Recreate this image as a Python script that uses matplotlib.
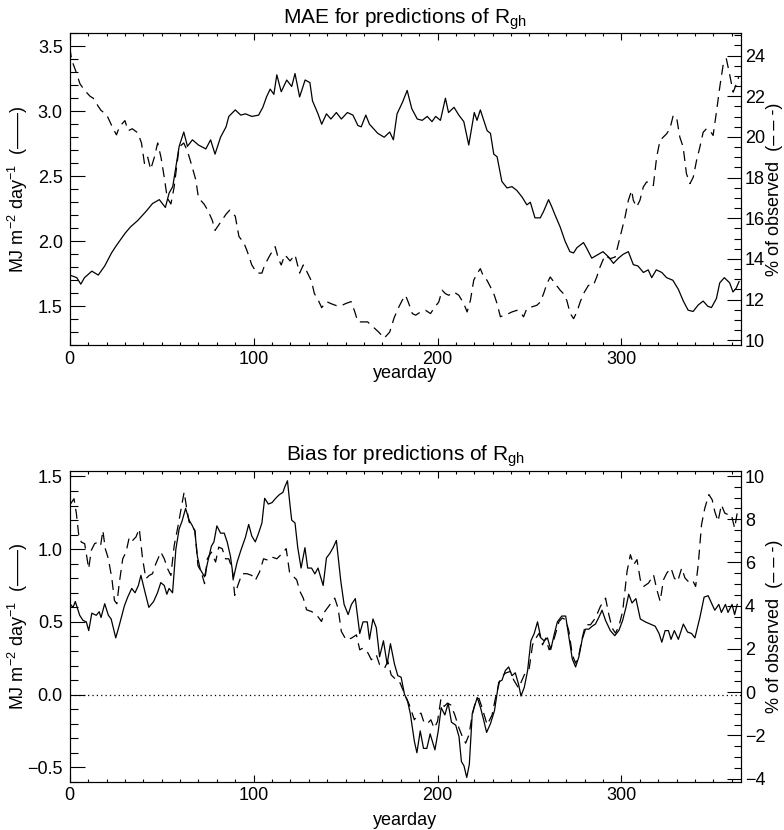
import matplotlib
matplotlib.use("Agg")
import matplotlib.pyplot as plt
from matplotlib.ticker import MultipleLocator

plt.rcParams['font.family'] = ['Liberation Sans', 'DejaVu Sans']
plt.rcParams['mathtext.fontset'] = 'custom'
plt.rcParams['mathtext.rm'] = 'Liberation Sans'
plt.rcParams['mathtext.it'] = 'Liberation Sans:italic'

# MAE, MJ m-2 day-1 (solid, left axis)
mae_mj_day = [0, 3.8, 6, 8, 12, 15.5, 19, 22.7, 25, 30,
              33, 37, 41.5, 45, 48.7, 52, 54, 56, 59.5, 62,
              64, 66.7, 70, 74, 76.6, 79, 82, 85, 86.5, 90,
              93, 95.5, 99, 102.7, 105, 107, 109, 111, 112.6, 115,
              118, 120.7, 122.5, 125, 128, 130.6, 132, 135, 137, 139.6,
              142, 145, 147.7, 151, 154, 156.7, 158.5, 161, 163, 167.5,
              171, 174, 176, 178, 181, 183.5, 186, 189, 191.7, 194.4,
              197, 199, 201.6, 204.3, 206, 209, 211.6, 214.3, 217, 220,
              221.5, 223.3, 227, 228.8, 230.6, 232.4, 235, 237.8, 240.5, 243.2,
              246, 248.6, 250.5, 253, 255.9, 257.7, 260.4, 262, 264, 266.7,
              269.4, 272, 274, 275.8, 279.4, 281, 283.9, 287.5, 290, 293,
              295.7, 298.4, 301, 303.8, 306.5, 309, 312, 314.6, 316.5, 319,
              322, 324.6, 328, 331, 333.7, 336.3, 339, 341.8, 344.5, 347,
              349, 351.7, 353.5, 356, 358.9, 360.7, 362.5, 364]
mae_mj = [1.74, 1.72, 1.67, 1.72, 1.77, 1.74, 1.81, 1.91, 1.96, 2.06,
          2.11, 2.16, 2.23, 2.29, 2.32, 2.26, 2.37, 2.42, 2.73, 2.84,
          2.73, 2.78, 2.74, 2.71, 2.78, 2.67, 2.80, 2.88, 2.96, 3.01,
          2.97, 2.98, 2.96, 2.97, 3.03, 3.11, 3.17, 3.13, 3.28, 3.15,
          3.24, 3.19, 3.29, 3.11, 3.24, 3.22, 3.08, 2.98, 2.90, 2.98,
          2.94, 2.99, 2.94, 2.99, 2.97, 2.89, 2.88, 2.97, 2.90, 2.83,
          2.80, 2.84, 2.78, 2.98, 3.07, 3.16, 3.02, 2.94, 2.93, 2.96,
          2.92, 2.96, 2.93, 3.10, 2.99, 3.03, 2.97, 2.92, 2.74, 2.99,
          2.93, 3.01, 2.85, 2.83, 2.67, 2.65, 2.46, 2.41, 2.42, 2.39,
          2.34, 2.28, 2.30, 2.18, 2.18, 2.23, 2.32, 2.27, 2.20, 2.11,
          2.00, 1.92, 1.91, 1.95, 1.99, 1.95, 1.87, 1.90, 1.92, 1.88,
          1.83, 1.87, 1.90, 1.92, 1.82, 1.81, 1.76, 1.78, 1.72, 1.78,
          1.76, 1.72, 1.70, 1.63, 1.54, 1.47, 1.46, 1.51, 1.54, 1.50,
          1.49, 1.56, 1.68, 1.72, 1.68, 1.61, 1.64, 1.69]

# MAE, % of observed (dashed, right axis)
mae_pct_day = [0, 1, 3, 5.6, 8, 11, 12.8, 15.5, 17, 20,
               23.6, 25.4, 27, 30, 31.7, 34, 37, 39, 40.6, 42.4,
               44, 46, 47.8, 49.6, 51.4, 53, 55, 56.7, 59.5, 62,
               64, 66, 68.5, 70, 73, 75, 77.5, 79, 82, 85,
               87, 90, 92, 94.6, 96.4, 99, 101.8, 104.5, 106, 109,
               111.7, 113.5, 115, 117, 119.8, 122.5, 125, 127, 128.8, 131.5,
               133, 135, 137, 139.6, 142, 145, 147.7, 150, 153, 155,
               156.7, 159, 162, 165.6, 168, 171, 174, 176.4, 179, 180.8,
               182.6, 184.4, 186.3, 188.1, 190.8, 193.5, 196.2, 198, 200.7, 202.5,
               204.3, 206.1, 208.9, 211.6, 214.3, 216.1, 217.9, 219.7, 221.5, 223.3,
               225.1, 226.9, 228.8, 230.6, 232.4, 234.2, 236, 238.7, 240.5, 243.2,
               245, 246.8, 248.6, 251.4, 254.1, 255.9, 257.7, 259.5, 261.3, 264,
               266.7, 268.5, 270.3, 272.2, 274, 275.8, 277.6, 279.4, 282.1, 284.8,
               286.6, 288.4, 291.1, 293.9, 296.6, 298.4, 300.2, 302, 303.8, 305.6,
               306.5, 308.3, 310.1, 311.9, 313.7, 315.6, 317.4, 319.2, 321, 322.8,
               324.6, 326.4, 328.2, 330, 331.8, 333.6, 335.4, 337.3, 339.1, 340.9,
               342.7, 344.5, 346.3, 348.1, 349.9, 351.7, 353.5, 355.3, 357.1, 359,
               360.8, 362.6, 363.8]
mae_pct = [24.4, 23.8, 23.3, 22.6, 22.3, 22.0, 21.9, 21.5, 21.3, 21.1,
           20.4, 20.1, 20.5, 20.8, 20.3, 20.4, 20.2, 19.7, 18.7, 19.0,
           18.4, 19.0, 19.7, 19.0, 18.0, 17.0, 16.7, 17.5, 19.5, 19.7,
           19.3, 18.7, 17.9, 17.0, 16.7, 16.4, 15.9, 15.4, 15.8, 16.2,
           16.4, 16.1, 15.1, 14.8, 14.4, 13.7, 13.3, 13.3, 13.7, 14.2,
           14.6, 14.0, 13.7, 14.2, 13.9, 14.2, 13.3, 13.7, 13.4, 12.9,
           12.3, 12.0, 11.6, 11.9, 11.8, 11.7, 11.7, 11.8, 11.9, 11.4,
           10.9, 10.9, 10.9, 10.6, 10.4, 10.1, 10.4, 11.1, 11.64, 11.96,
           12.21, 11.80, 11.31, 11.23, 11.39, 11.47, 11.31, 11.56, 11.88, 12.46,
           12.29, 12.21, 12.37, 12.21, 11.80, 11.39, 11.96, 12.95, 13.27, 13.52,
           13.11, 12.95, 12.62, 12.29, 11.80, 11.15, 11.23, 11.31, 11.39, 11.47,
           11.39, 11.15, 11.56, 11.64, 11.72, 11.88, 12.29, 12.78, 13.11, 12.78,
           12.46, 12.29, 11.96, 11.31, 11.06, 11.39, 11.88, 12.29, 12.70, 12.70,
           13.11, 13.60, 14.18, 14.01, 14.09, 14.75, 15.40, 16.06, 16.88, 17.37,
           16.88, 16.55, 16.88, 17.53, 17.78, 17.78, 17.61, 19.01, 19.82, 19.99,
           20.15, 20.40, 21.05, 20.97, 19.99, 19.50, 18.19, 17.70, 18.02, 18.84,
           19.50, 20.23, 20.40, 20.32, 20.07, 21.22, 22.44, 23.51, 23.84, 23.02,
           22.20, 22.61, 22.94]

# Bias, MJ m-2 day-1 (solid, left axis)
bias_mj_day = [0, 1.8, 3, 5.4, 7.2, 9, 10.3, 12, 14.4, 16,
               17, 19, 21, 22.5, 25, 27, 29.7, 31.5, 33.7, 35.5,
               37.3, 38.7, 41, 43, 45.6, 47.7, 49.5, 51.4, 52.8, 54,
               55.9, 57.7, 59.5, 61, 63, 64.9, 66.7, 68, 69.4, 71,
               73.3, 75, 77, 78.4, 80, 82, 84, 85.6, 87.4, 89,
               91, 93, 95.5, 97.3, 99, 100.9, 102.7, 104.5, 106, 108,
               110, 112, 114, 115.9, 117, 118.4, 119.8, 120.7,
               122.5, 124, 125.8, 127.9, 129.4, 131.5, 133.3, 135, 137.8, 139.6,
               141.4, 143.2, 145, 147.4, 149.2, 151.4, 153.2, 155.3, 157.7, 159.5,
               161.8, 163, 164.9, 166.7, 168.5, 170.6, 172.6, 174.4, 176.6, 178.4,
               180.2, 182, 183.8, 185.2, 187.4, 188.8, 190.6, 192.4, 194.2, 196,
               198.6, 200.4, 202, 204, 205.8, 207.6, 209.9, 211.7, 213, 214.4,
               215.9, 217.3, 218.9, 221.6, 223.4, 225.2, 226.7, 228.8, 231, 233.3,
               235.1, 236.9, 238.7, 240.5, 242.3,
               244.1, 245.4, 247.2, 249, 250.8, 252.6, 254.4, 256.2, 258, 259.8,
               261.6, 263.4, 265.2, 267.6, 269.7, 271.5, 273.3, 275.1, 276.9, 278.7,
               280.5, 282.3, 284.1, 285.9, 287.7, 289.5, 291.4, 294, 296.4, 298.6,
               300.7, 302.5, 304, 305.8, 307.9, 310.3, 313, 315.7, 318.4, 320.5,
               322, 323.8, 325.6, 327, 328.8, 331, 333.7, 336, 338.2, 340,
               342.7, 345, 347.2, 349, 350.8, 353, 354.4, 356.6, 358, 360.2,
               361.6, 363]
bias_mj = [0.625, 0.60, 0.64, 0.545, 0.51, 0.50, 0.44, 0.56, 0.545, 0.57,
           0.53, 0.625, 0.545, 0.52, 0.39, 0.48, 0.61, 0.67, 0.73, 0.70,
           0.75, 0.82, 0.70, 0.60, 0.64, 0.70, 0.77, 0.75, 0.69, 0.73,
           0.70, 1.00, 1.14, 1.19, 1.28, 1.20, 1.16, 1.125, 0.95, 0.86,
           0.81, 0.91, 1.02, 1.05, 1.16, 1.11, 1.11, 1.05, 0.95, 0.80,
           0.91, 0.99, 1.08, 1.17, 1.09, 1.05, 1.11, 1.18, 1.35, 1.31,
           1.32, 1.35, 1.375, 1.39, 1.43, 1.47, 1.30, 1.20,
           1.18, 1.01, 0.87, 1.01, 0.87, 0.87, 0.83, 0.87, 0.75, 0.94,
           0.97, 1.01, 1.06, 0.78, 0.62, 0.55, 0.62, 0.66, 0.42, 0.50,
           0.50, 0.38, 0.52, 0.46, 0.26, 0.37, 0.21, 0.35, 0.21, 0.13,
           0.12, 0.005, -0.05, -0.13, -0.32, -0.40, -0.25, -0.37, -0.37, -0.27,
           -0.38, -0.25, -0.09, -0.14, -0.06, -0.19, -0.21, -0.29, -0.46, -0.49,
           -0.57, -0.48, -0.13, -0.02, -0.09, -0.18, -0.26, -0.20, -0.11, 0.085,
           0.10, 0.165, 0.19, 0.13, 0.15,
           0.07, -0.01, 0.05, 0.165, 0.37, 0.42, 0.50, 0.39, 0.37, 0.39,
           0.31, 0.41, 0.50, 0.54, 0.54, 0.39, 0.245, 0.19, 0.26, 0.38,
           0.45, 0.45, 0.47, 0.485, 0.53, 0.58, 0.51, 0.44, 0.405, 0.44,
           0.51, 0.60, 0.69, 0.63, 0.66, 0.52, 0.50, 0.485, 0.47, 0.42,
           0.36, 0.44, 0.44, 0.38, 0.44, 0.38, 0.485, 0.43, 0.42, 0.39,
           0.53, 0.67, 0.68, 0.63, 0.58, 0.62, 0.565, 0.62, 0.565, 0.62,
           0.55, 0.62]

# Bias, % of observed (dashed, right axis)
bias_pct_day = [0.5, 2.3, 3.6, 4.9, 6.3, 8.1, 10.3, 11.7, 13.5, 15.3,
                16.8, 18, 19.3, 21, 22.9, 24.3, 25.6, 27, 28.8, 30.6,
                32.4, 34.2, 36, 37.8, 39.6, 41.4, 43.2, 45, 46.8, 49.5,
                51.4, 53.2, 55, 56.8, 58.6, 60.4, 62.2, 63.6, 64.9, 66.7,
                68.1, 69.7, 71.5, 73.3, 74.8, 77, 79.3, 81, 82.9, 84.7,
                86.5, 88.3, 89.7, 91.4, 93.7, 96.4, 99, 100.9, 103.2, 105.4,
                108, 110, 112.6, 115.3, 117.7, 119.5,
                120.7, 123.4, 125.2, 127, 128.8, 131.5, 134.2, 136.9, 138.7, 141.4,
                144.1, 145.9, 147.7, 150.3, 153.2, 155.9, 157.7, 159.5, 162.2, 164,
                166.7, 168.5, 171.2, 173, 174.8, 177.5, 179.3, 182, 184.7, 187.4,
                189.2, 191, 192.8, 194.6, 196.4, 198.2, 200, 201.8, 203.6, 205.4,
                207.2, 209.4, 211.7, 213.5, 215.3, 217.1, 218.9, 220.7, 222.5, 224.3,
                227, 229.7, 231.5, 234.2, 236.9, 239.6, 241.4, 244.1,
                247.2, 249.9, 251.7, 253.5, 255.3, 257.1, 258.9, 260.7, 262.5, 264.3,
                266.1, 267.9, 269.7, 271.5, 273.3, 275.1, 276.9, 278.7, 280.5, 283.2,
                285.9, 288.6, 291.4, 293.2, 295, 296.8, 298.6, 300.7, 303.1, 304.9,
                306.7, 308.5, 310.3, 312.1, 314.8, 317.5, 319.3, 321.1, 322.9, 324.7,
                327, 328.8, 330.6, 332.8, 334.6, 336.4, 338.6, 340.4, 341.8, 343.6,
                345.4, 347.6, 349.4, 350.8, 352.6, 354.4, 356.2, 358, 359.8, 361.6,
                363]
bias_pct = [8.72, 8.95, 8.26, 7.25, 6.94, 6.87, 5.71, 6.56, 6.87, 6.94,
            6.79, 7.48, 6.64, 6.17, 5.25, 4.24, 4.09, 5.09, 6.17, 6.48,
            7.18, 7.02, 7.18, 7.56, 6.17, 5.25, 5.40, 5.48, 5.94, 6.48,
            6.17, 5.71, 5.40, 6.79, 7.56, 8.41, 9.26, 8.49, 7.87, 7.64,
            7.48, 5.86, 5.56, 5.02, 6.17, 6.48, 6.02, 6.71, 6.64, 6.17,
            6.17, 5.71, 4.48, 4.94, 5.48, 5.48, 5.40, 5.17, 5.56, 6.17,
            6.10, 6.25, 6.17, 6.40, 6.64, 5.56,
            5.43, 5.20, 4.66, 4.35, 3.81, 3.73, 3.58, 3.27, 3.73, 4.04,
            4.35, 3.89, 2.81, 2.42, 2.50, 2.65, 1.96, 2.04, 1.81, 1.50,
            1.73, 1.27, 1.11, 1.42, 0.80, 0.57, 0.49, -0.05, -0.59, -1.28,
            -1.05, -0.97, -1.44, -1.44, -1.28, -1.67, -1.36, -0.35, -0.66, -0.51,
            -0.59, -1.05, -1.67, -2.05, -2.36, -1.98, -1.05, -0.43, -0.28, -0.74,
            -1.51, -1.05, -0.28, 0.65, 0.88, 0.96, 0.57, 0.19,
            0.80, 1.11, 2.19, 2.50, 2.73, 2.19, 2.50, 1.96, 2.19, 2.73,
            3.27, 3.43, 3.35, 2.81, 1.73, 1.34, 1.73, 2.50, 3.12, 3.12,
            3.43, 3.97, 4.35, 3.58, 2.96, 2.73, 3.04, 3.73, 5.59, 6.36,
            5.90, 6.13, 5.20, 4.89, 5.05, 5.43, 4.74, 4.20, 5.20, 5.51,
            5.74, 5.28, 5.12, 5.74, 5.28, 5.12, 5.20, 4.89, 5.90, 7.75,
            8.52, 9.14, 8.90, 8.36, 7.90, 8.67, 8.29, 8.21, 8.21, 7.59,
            8.29]

fig = plt.figure(figsize=(7.84, 8.3), dpi=100)
ax_top = fig.add_axes([0.089, 0.584, 0.856, 0.376])
ax_bot = fig.add_axes([0.089, 0.058, 0.856, 0.375])

dash = (0, (8, 5))


def style(ax, ax2, title, ylim, ylim2, minor_l, minor_r, xlab_y):
    ax.set_xlim(0, 365)
    ax.set_ylim(*ylim)
    ax2.set_ylim(*ylim2)
    ax.xaxis.set_major_locator(MultipleLocator(100))
    ax.xaxis.set_minor_locator(MultipleLocator(10))
    ax.yaxis.set_minor_locator(MultipleLocator(minor_l))
    ax2.yaxis.set_minor_locator(MultipleLocator(minor_r))
    ax.tick_params(axis='x', which='both', direction='in', top=True, bottom=True,
                   labelsize=13, pad=4)
    ax.tick_params(axis='x', which='major', length=5, width=0.8)
    ax.tick_params(axis='x', which='minor', length=2.5, width=0.8)
    ax.tick_params(axis='y', which='both', direction='in', left=True, right=False,
                   labelsize=13, pad=5)
    ax.tick_params(axis='y', which='major', length=11, width=0.8)
    ax.tick_params(axis='y', which='minor', length=5.5, width=0.8)
    ax2.tick_params(axis='y', which='both', direction='in', right=True, left=False,
                    labelsize=13, pad=3)
    ax2.tick_params(axis='y', which='major', length=10, width=0.8)
    ax2.tick_params(axis='y', which='minor', length=5, width=0.8)
    for sp in ax.spines.values():
        sp.set_linewidth(0.8)
    ax.set_title(title, fontsize=15, pad=7)
    ax.set_xlabel("yearday", fontsize=13)
    ax.xaxis.set_label_coords(0.5, xlab_y)
    ax.set_ylabel("MJ m$^{-2}$ day$^{-1}$  (\u2014\u2014)", fontsize=13)
    ax.yaxis.set_label_coords(-0.059, 0.5)
    ax2.set_ylabel("% of observed  (\u2013 \u2013 -)", fontsize=13, rotation=90)
    ax2.yaxis.set_label_coords(1.038, 0.5)


# top panel: MAE
ax_top2 = ax_top.twinx()
ax_top.plot(mae_mj_day, mae_mj, color='black', lw=0.9)
ax_top2.plot(mae_pct_day, mae_pct, color='black', lw=0.9, linestyle=dash)
style(ax_top, ax_top2, r"MAE for predictions of R$_{\mathrm{gh}}$",
      (1.2, 3.6), (9.75, 25.1), 0.1, 0.5, -0.062)
ax_top.set_yticks([1.5, 2.0, 2.5, 3.0, 3.5])
ax_top2.set_yticks([10, 12, 14, 16, 18, 20, 22, 24])

# bottom panel: Bias
ax_bot2 = ax_bot.twinx()
ax_bot.axhline(0, color='black', lw=0.9, linestyle=(0, (1, 2.5)))
ax_bot.plot(bias_mj_day, bias_mj, color='black', lw=0.9)
ax_bot2.plot(bias_pct_day, bias_pct, color='black', lw=0.9, linestyle=dash)
style(ax_bot, ax_bot2, r"Bias for predictions of R$_{\mathrm{gh}}$",
      (-0.60, 1.54), (-4.15, 10.25), 0.1, 0.5, -0.098)
ax_bot.set_yticks([-0.5, 0.0, 0.5, 1.0, 1.5])
ax_bot2.set_yticks([-4, -2, 0, 2, 4, 6, 8, 10])

fig.savefig("out.png", dpi=100)
